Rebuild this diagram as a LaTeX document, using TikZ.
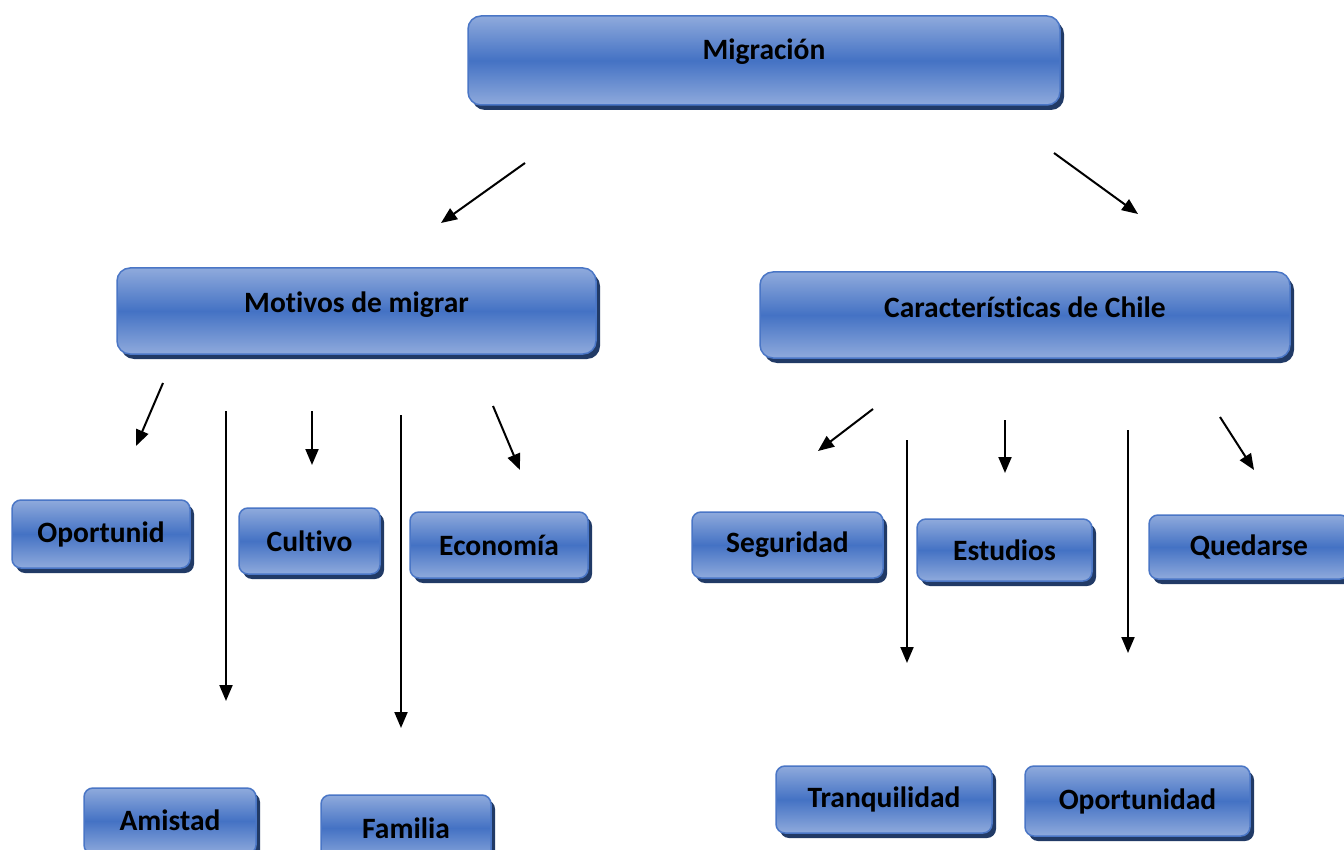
\documentclass[tikz,border=0pt]{standalone}
\usepackage{fontspec}
\setmainfont[Ligatures=NoCommon]{Carlito}
\usetikzlibrary{shadows,arrows.meta}
\definecolor{boxmid}{HTML}{4472C4}
\definecolor{boxlight}{HTML}{8FAADC}
\definecolor{boxedge}{HTML}{4A76C6}
\definecolor{boxshadow}{HTML}{213A66}
\tikzset{
  box/.style={rounded corners=9pt, draw=boxedge, line width=1.5pt,
    top color=boxlight, bottom color=boxlight, middle color=boxmid,
    drop shadow={shadow xshift=4pt, shadow yshift=-5pt, fill=boxshadow, opacity=1},
    font=\bfseries\fontsize{29.5}{33}\selectfont, text=black, inner sep=0pt},
  bigbox/.style={box, rounded corners=13pt},
  arr/.style={-{Triangle[length=16pt,width=13pt]}, line width=2pt, black}
}
\begin{document}
\begin{tikzpicture}[x=1pt,y=-1pt]
\clip (0,0) rectangle (1344,850);
\fill[white] (0,0) rectangle (1344,850);
% main boxes
\node[bigbox, minimum width=592, minimum height=89] (mig) at (764,60.5) {\raisebox{23pt}{Migración}};
\node[bigbox, minimum width=479, minimum height=86] (mot) at (356.5,311) {\raisebox{17pt}{Motivos de migrar}};
\node[bigbox, minimum width=530, minimum height=86] (car) at (1025,315) {\raisebox{16pt}{Características de Chile}};
% left leaves
\node[box, minimum width=178, minimum height=68] (opo) at (101,534) {Oportunid};
\node[box, minimum width=141, minimum height=66] (cul) at (309.5,541) {Cultivo};
\node[box, minimum width=178, minimum height=66] (eco) at (499,545) {Economía};
\node[box, minimum width=172, minimum height=66] (ami) at (170,821) {\raisebox{1pt}{Amistad}};
\node[box, minimum width=170, minimum height=66] (fam) at (406,828) {Familia};
% right leaves
\node[box, minimum width=191, minimum height=66] (seg) at (787.5,545) {Seguridad};
\node[box, minimum width=175, minimum height=62] (est) at (1004.5,550) {\raisebox{-2pt}{Estudios}};
\node[box, minimum width=200, minimum height=64] (que) at (1249,547) {Quedarse};
\node[box, minimum width=216, minimum height=67] (tra) at (884,799.5) {\raisebox{-5pt}{Tranquilidad}};
\node[box, minimum width=225, minimum height=70] (opd) at (1137.5,801) {\raisebox{2pt}{Oportunidad}};
% arrow end points
\coordinate (a1s) at (525,163);  \coordinate (a1e) at (441,223);
\coordinate (a2s) at (1054,153); \coordinate (a2e) at (1138,214);
\coordinate (b1s) at (163,383);  \coordinate (b1e) at (136,446);
\coordinate (b2s) at (226,411);  \coordinate (b2e) at (226,701);
\coordinate (b3s) at (312,411);  \coordinate (b3e) at (312,465);
\coordinate (b4s) at (401,415);  \coordinate (b4e) at (401,728);
\coordinate (b5s) at (493,406);  \coordinate (b5e) at (520,470);
\coordinate (c1s) at (873,409);  \coordinate (c1e) at (818,451);
\coordinate (c2s) at (907,440);  \coordinate (c2e) at (907,663);
\coordinate (c3s) at (1005,420); \coordinate (c3e) at (1005,473);
\coordinate (c4s) at (1128,430); \coordinate (c4e) at (1128,653);
\coordinate (c5s) at (1220,417); \coordinate (c5e) at (1254,470);
\foreach \p in {a1,a2,b1,b2,b3,b4,b5,c1,c2,c3,c4,c5}
  \draw[arr] (\p s) -- (\p e);
\end{tikzpicture}
\end{document}
